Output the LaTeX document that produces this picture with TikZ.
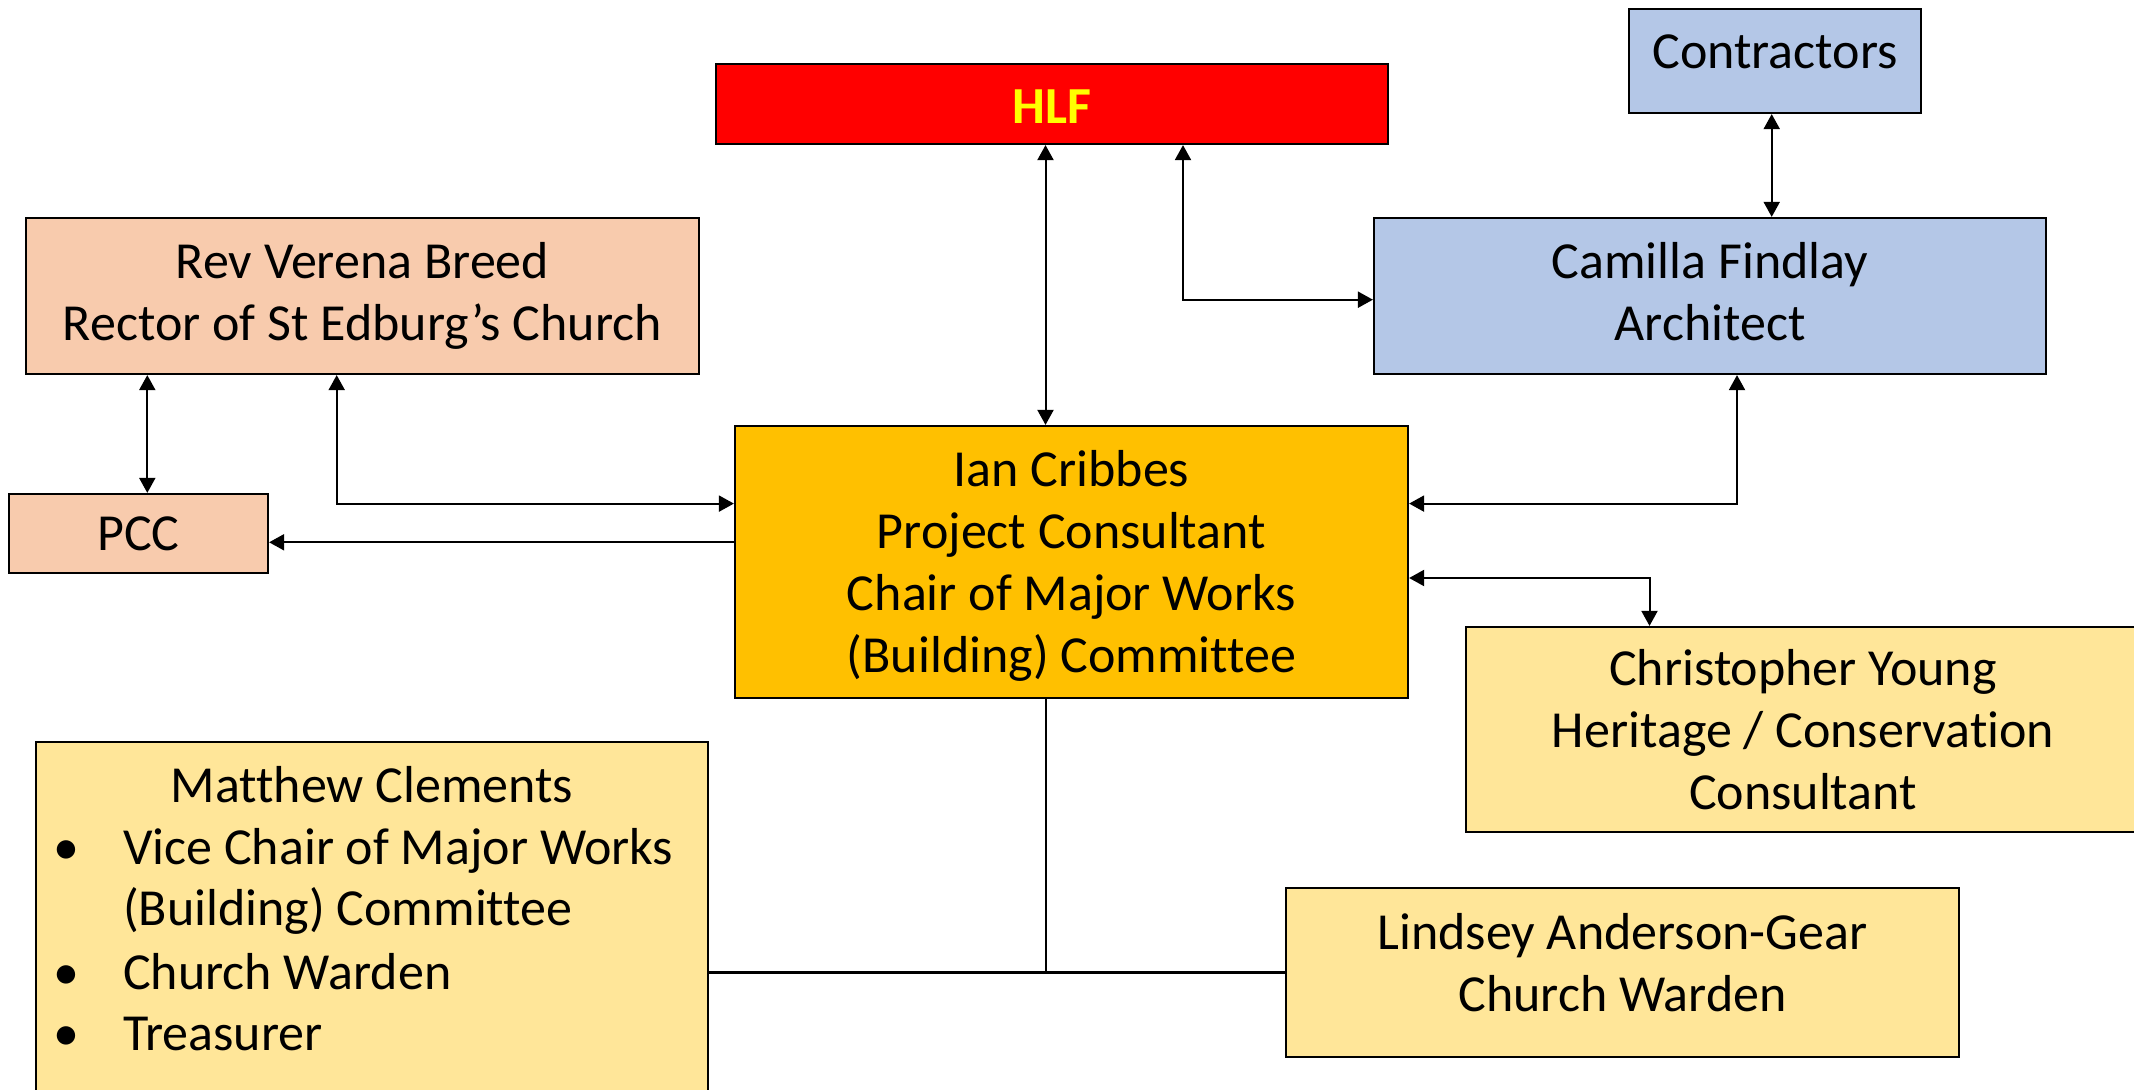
\documentclass[tikz,border=0pt]{standalone}
\usepackage{fontspec}
\setmainfont{Carlito}[Ligatures=NoCommon]
\usetikzlibrary{arrows.meta}
\definecolor{hlfred}{HTML}{FF0000}
\definecolor{hlfyel}{HTML}{FFFF00}
\definecolor{peach}{HTML}{F8CBAD}
\definecolor{amber}{HTML}{FFC000}
\definecolor{blueish}{HTML}{B4C7E7}
\definecolor{pale}{HTML}{FFE699}
\tikzset{
  box/.style={draw=black, line width=1.1pt, inner sep=0pt, align=center, font=\fontsize{26}{31}\selectfont},
  txt/.style={inner sep=0pt, font=\fontsize{26}{31}\selectfont},
  conn/.style={line width=1pt, draw=black},
  bi/.style={conn, {Triangle[length=7.5pt,width=8pt]}-{Triangle[length=7.5pt,width=8pt]}},
  uni/.style={conn, -{Triangle[length=7.5pt,width=8pt]}},
}
\begin{document}
\begin{tikzpicture}[x=0.5pt,y=-0.5pt]
\useasboundingbox (0,0) rectangle (2134,1090);
\clip (0,0) rectangle (2134,1090);
\fill[white] (0,0) rectangle (2134,1090);

% boxes
\node[box, fill=hlfred, minimum width=336pt, minimum height=40pt, text=hlfyel, font=\fontsize{26}{31}\selectfont\bfseries] (hlf) at (1052,104) {\rule{0pt}{19.7pt}HLF};
\node[box, fill=blueish, minimum width=146pt, minimum height=52pt] (contr) at (1775,61) {};
\node[txt, anchor=base] (contrtxt) at (1775,69) {Contractors};
\node[box, fill=blueish, minimum width=336pt, minimum height=78pt] (cam) at (1710,296) {Camilla Findlay\\Architect\vphantom{g}};
\node[box, fill=peach, minimum width=336.5pt, minimum height=78pt] (rev) at (362.5,296) {Rev Verena Breed\\Rector of St Edburg’s Church};
\node[box, fill=peach, minimum width=129.5pt, minimum height=39.5pt] (pcc) at (138.5,533.5) {PCC};
\node[box, fill=amber, minimum width=336.5pt, minimum height=136pt] (ian) at (1071.5,562) {\rule{0pt}{22pt}Ian Cribbes\\Project Consultant\\Chair of Major Works\\(Building) Committee};
\node[box, fill=pale, minimum width=337pt, minimum height=102.5pt] (chris) at (1803,729.5) {Christopher Young\\Heritage / Conservation\\Consultant};
\node[box, fill=pale, minimum width=336.5pt, minimum height=84.5pt] (lind) at (1622.5,972.5) {};
\node[txt, anchor=base] (lind1) at (1622.5,949.5) {Lindsey Anderson-Gear};
\node[txt, anchor=base] (lind2) at (1622.5,1011.5) {Church Warden};
\node[box, fill=pale, minimum width=336pt, minimum height=179pt] (matt) at (372,921) {};
\node[txt, anchor=base] (matt0) at (372,802) {Matthew Clements};
\node[txt, anchor=base] (bul1) at (66.6,864) {•};
\node[txt, anchor=base] (bul2) at (66.6,989) {•};
\node[txt, anchor=base] (bul3) at (66.6,1050) {•};
\node[txt, anchor=base west] (matt1) at (122.8,864) {Vice Chair of Major Works};
\node[txt, anchor=base west] (matt2) at (122.8,925.5) {(Building) Committee};
\node[txt, anchor=base west] (matt3) at (122.8,989) {Church Warden};
\node[txt, anchor=base west] (matt4) at (122.8,1050) {Treasurer};

% connectors
\draw[bi] ([xshift=-3.25pt]hlf.south) -- ([xshift=-13pt]ian.north);
\draw[bi] ([xshift=65.5pt]hlf.south) |- ([yshift=-1.85pt]cam.west);
\draw[bi] ([xshift=-1.65pt]contr.south) -- ([xshift=30.85pt]cam.north);
\draw[bi] ([xshift=13.5pt]cam.south) |- ([yshift=29.2pt]ian.east);
\draw[bi] ([yshift=-8pt]ian.east) -| ([xshift=-76.75pt]chris.north);
\draw[bi] ([xshift=-107.6pt]rev.south) -- ([xshift=4.4pt]pcc.north);
\draw[bi] ([xshift=-12.9pt]rev.south) |- ([yshift=29.2pt]ian.west);
\draw[uni] ([yshift=9.85pt]ian.west) -- ([yshift=-4.4pt]pcc.east);
\coordinate (junction) at (1045.5,972.5);
\draw[conn] ([xshift=-13pt]ian.south) -- (junction);
\draw[conn, line width=1.35pt] (matt.east |- lind.west) -- (lind.west);
\end{tikzpicture}
\end{document}
